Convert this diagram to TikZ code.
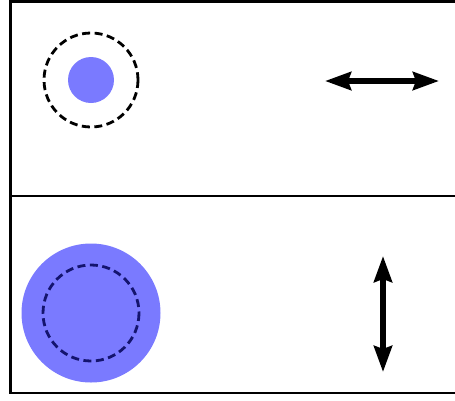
\documentclass[tikz,border=0pt]{standalone}
\usetikzlibrary{arrows.meta}
\definecolor{discblue}{RGB}{122,122,255}
\definecolor{ringnavy}{RGB}{20,20,110}

\begin{document}
\begin{tikzpicture}[x=1pt,y=-1pt,
  ring/.style={line width=2.8pt,dash pattern=on 8pt off 4.5pt},
  motion/.style={line width=5.5pt,{Stealth[length=26pt,width=18pt,inset=3pt]}-{Stealth[length=26pt,width=18pt,inset=3pt]}}]
  \useasboundingbox (0,0) rectangle (455,400);
  \coordinate (A) at (91,80);
  \coordinate (B) at (91,313);
  \coordinate (L1) at (325,81);
  \coordinate (R1) at (439,81);
  \coordinate (T2) at (383,256);
  \coordinate (B2) at (383,372);
  % panels
  \draw[line width=2.8pt] (470,1.5) -- (10.5,1.5) -- (10.5,393) -- (470,393);
  \draw[line width=2.8pt] (10.5,196) -- (470,196);
  % top: small disc inside ring
  \fill[discblue] (A) circle[radius=23];
  \draw[ring] (A) circle[radius=47];
  \draw[motion] (L1) -- (R1);
  % bottom: large disc over ring
  \fill[discblue] (B) circle[radius=69.5];
  \draw[ring,ringnavy] (B) circle[radius=48];
  \draw[motion] (T2) -- (B2);
\end{tikzpicture}
\end{document}
